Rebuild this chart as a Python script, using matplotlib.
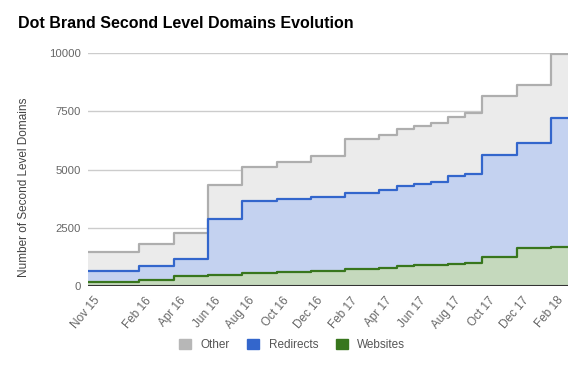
import numpy as np
import pandas as pd
import matplotlib
matplotlib.use("Agg")
import matplotlib.pyplot as plt
from matplotlib.patches import Patch

plt.rcParams['font.family'] = ['Liberation Sans', 'DejaVu Sans']

# data (monthly snapshots, stacked)
months = ['2015-11', '2016-02', '2016-04', '2016-06', '2016-08', '2016-10',
          '2016-12', '2017-02', '2017-04', '2017-05', '2017-06', '2017-07',
          '2017-08', '2017-09', '2017-10', '2017-12', '2018-02']
websites = [157, 257, 416, 459, 571, 588, 635, 729, 786, 857, 886, 914,
            929, 1000, 1257, 1614, 1657]
redirects = [500, 600, 743, 2416, 3077, 3132, 3175, 3242, 3343, 3443, 3471,
             3529, 3785, 3786, 4357, 4515, 5572]
other = [790, 930, 1130, 1445, 1446, 1602, 1752, 2343, 2371, 2429, 2500,
         2571, 2529, 2657, 2529, 2485, 2728]
tick_months = ['2015-11', '2016-02', '2016-04', '2016-06', '2016-08',
               '2016-10', '2016-12', '2017-02', '2017-04', '2017-06',
               '2017-08', '2017-10', '2017-12', '2018-02']
tick_labels = ['Nov 15', 'Feb 16', 'Apr 16', 'Jun 16', 'Aug 16', 'Oct 16',
               'Dec 16', 'Feb 17', 'Apr 17', 'Jun 17', 'Aug 17', 'Oct 17',
               'Dec 17', 'Feb 18']

start = pd.Period(months[0], 'M')
def month_index(m):
    return (pd.Period(m, 'M') - start).n

x = np.array([month_index(m) for m in months] + [month_index(months[-1]) + 1])
def ext(v):
    v = np.asarray(v, dtype=float)
    return np.append(v, v[-1])

w = ext(websites)
r = w + ext(redirects)
o = r + ext(other)

fig = plt.figure(figsize=(5.87, 3.71), dpi=100)
ax = fig.add_axes([88 / 587, 85 / 371, 480 / 587, 233 / 371])

ax.fill_between(x, 0, w, step='post', color='#c5d9bd', lw=0)
ax.fill_between(x, w, r, step='post', color='#c4d2f0', lw=0)
ax.fill_between(x, r, o, step='post', color='#ebebeb', lw=0)
ax.step(x, o, where='post', color='#aeaeae', lw=1.6)
ax.step(x, r, where='post', color='#3366cc', lw=1.6)
ax.step(x, w, where='post', color='#38761d', lw=1.6)

ax.set_xlim(x[0], x[-1])
ax.set_ylim(0, 10000)
ax.set_yticks([0, 2500, 5000, 7500, 10000])
ax.grid(axis='y', color='#cccccc', lw=1)
ax.set_axisbelow(True)
ax.axhline(0, color='#333333', lw=1.5, zorder=5)
for s in ax.spines.values():
    s.set_visible(False)

ax.set_xticks([month_index(m) + 0.6 for m in tick_months])
ax.set_xticklabels(tick_labels, rotation=50, ha='right', va='center',
                   rotation_mode='anchor')
ax.tick_params(axis='x', length=0, pad=9, labelsize=8.5, labelcolor='#666666')
ax.tick_params(axis='y', length=0, pad=5, labelsize=8.2, labelcolor='#666666')
ax.set_ylabel('Number of Second Level Domains', fontsize=8.5, color='#444444')
ax.yaxis.set_label_coords(-58 / 480, (286 - 187) / 233)

fig.text(18 / 587, 1 - 24 / 371, 'Dot Brand Second Level Domains Evolution',
         fontsize=11.5, fontweight='bold', color='#000000', va='center')

handles = [Patch(color='#b7b7b7'), Patch(color='#3366cc'), Patch(color='#38761d')]
fig.legend(handles, ['Other', 'Redirects', 'Websites'], loc='center',
           bbox_to_anchor=(292 / 587, 1 - 345 / 371), ncol=3, frameon=False,
           fontsize=8.5, handlelength=1.0, handleheight=1.0, handletextpad=0.8,
           columnspacing=1.5, labelcolor='#555555')

fig.savefig('out.png', dpi=100)
